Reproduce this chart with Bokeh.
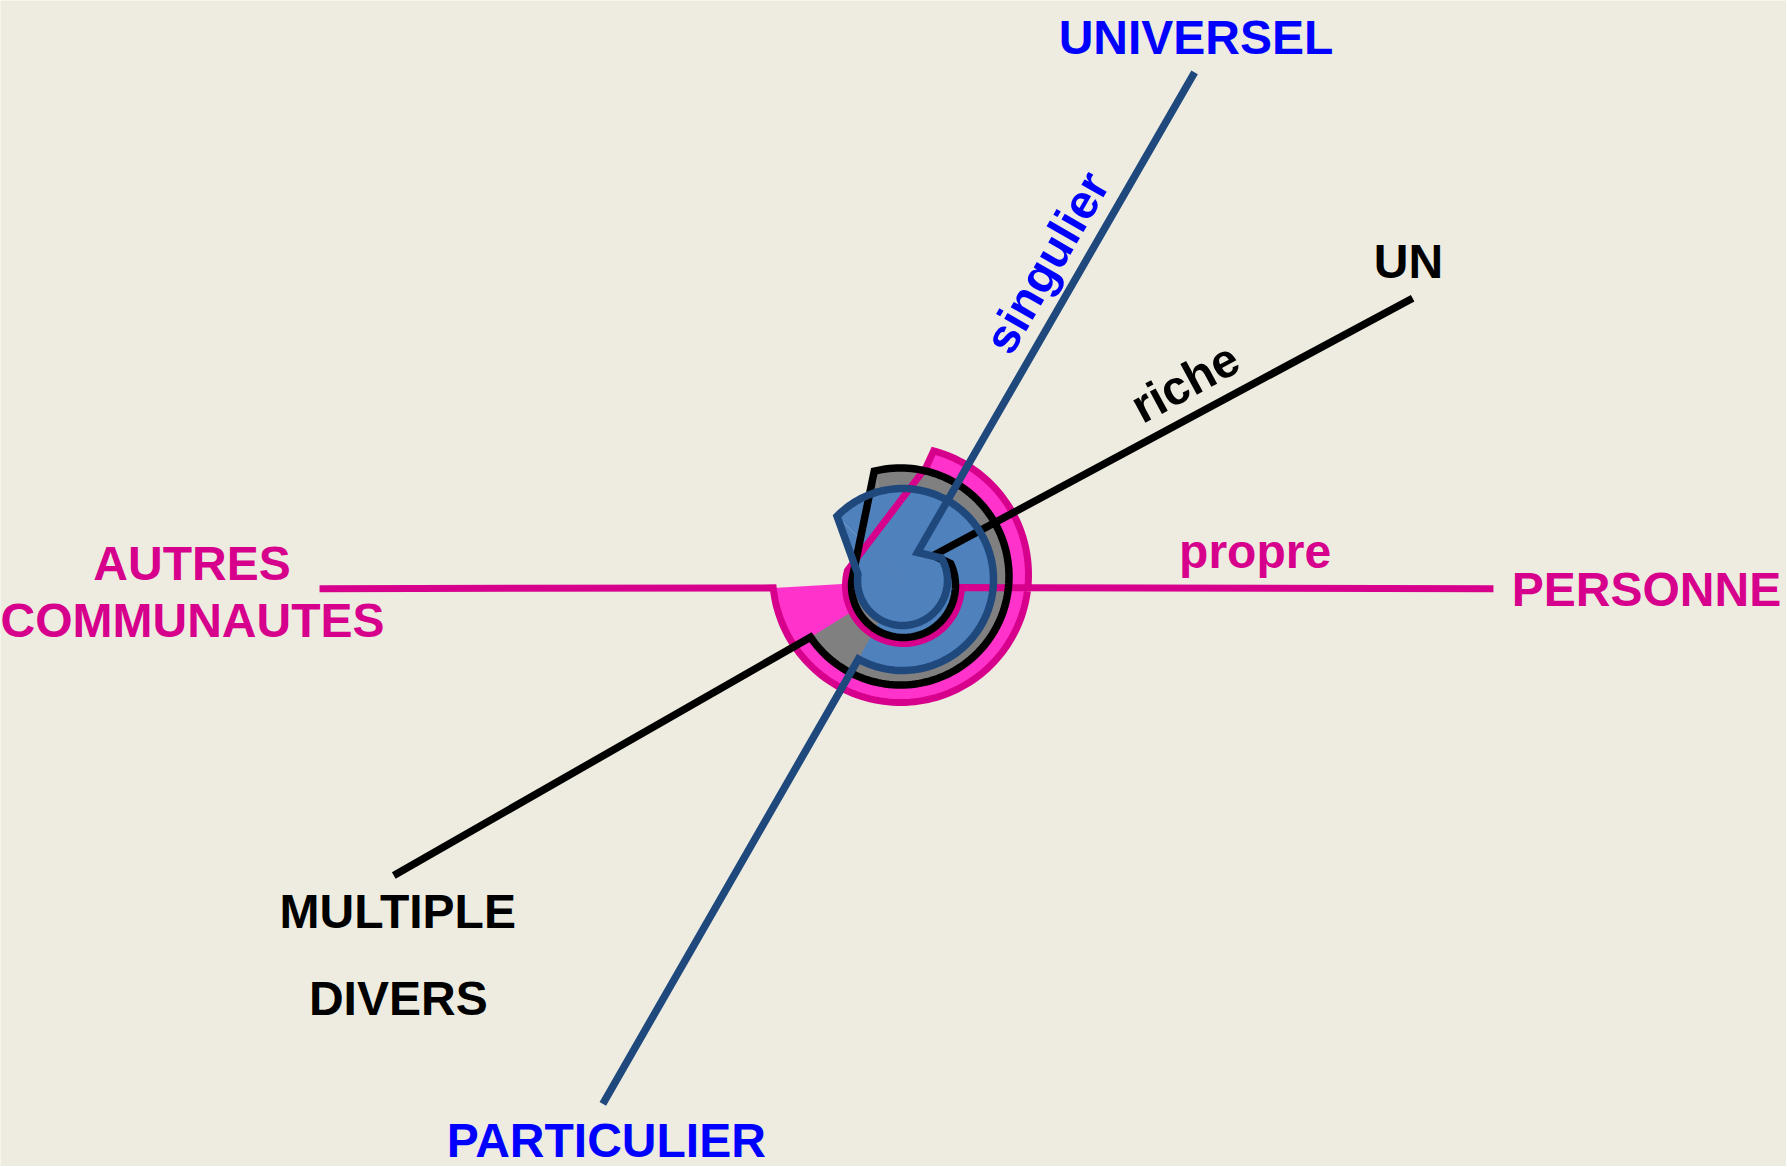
import numpy as np
from bokeh.plotting import figure
from bokeh.models import Range1d
from bokeh.core.properties import value
from bokeh.embed import file_html
from bokeh.resources import INLINE

# ---------------- data ----------------
# three axes of the diagram: pink (propre), black (riche), blue (singulier)
SERIES      = ["propre", "riche", "singulier"]
LINE_COLORS = ["#D6008C", "#000000", "#1F497D"]
FILL_COLORS = ["#FF33CC", "#808080", "#4F81BD"]

# far ends of each axis, polar from the diagram centre (radius px, degrees)
POS_END_R   = [591, 583, 586]
POS_END_DEG = [-0.8, 28.95, 60.1]
NEG_END_R   = [583, 588, 603]
NEG_END_DEG = [180.8, 210.1, 240.2]

# inner tip where the axis turns into the hook (pink has none)
TIP_R   = [None, 39.8, 31.8]
TIP_DEG = [None, 38.9, 61.8]

# inner hook: centre offset, radius, start / end angle (clockwise)
HOOK_DX    = [1, 1, 0]
HOOK_DY    = [-5, -5, 0]
HOOK_R     = [58, 52, 45]
HOOK_START = [-2, 25, 30]
HOOK_END   = [-195, -185, -188]

# knee of the chord before the outer arc (pink only)
KNEE_R   = [116.5, None, None]
KNEE_DEG = [78.1, None, None]

# outer arc: centre offset, radius, start / end angle (clockwise)
OUTER_DX    = [-2, -2, 0]
OUTER_DY    = [6, 4, 1]
OUTER_R     = [128, 108.5, 91]
OUTER_START = [75, 104, 136]
OUTER_END   = [-174, -146, -119]

# labels
LABELS       = ["UNIVERSEL", "UN", "propre", "PERSONNE", "AUTRES",
                "COMMUNAUTES", "MULTIPLE", "DIVERS", "PARTICULIER"]
LABEL_COLORS = ["#0000FF", "#000000", "#D6008C", "#D6008C", "#D6008C",
                "#D6008C", "#000000", "#000000", "#0000FF"]
ROT_LABELS       = ["singulier", "riche"]
ROT_LABEL_COLORS = ["#0000FF", "#000000"]
ROT_LABEL_DEG    = [60, 28.5]

# ---------------- layout ----------------
LINE_WIDTHS = [7, 7.5, 7.5]
LABEL_X = [293.5, 506, 352.6, 744, -710.5, -710, -504.8, -504.2, -296.2]
LABEL_Y = [543, 319, 28.6, -8.5, 17.5, -39.5, -330.6, -418.4, -559.7]
ROT_LABEL_X = [144.3, 282.5]
ROT_LABEL_Y = [318, 198]

BG = "#EEECE1"
FONT = value("Liberation Sans")


def pol(r, deg):
    t = np.deg2rad(deg)
    return r * np.cos(t), r * np.sin(t)


def arc_pts(cx, cy, r, a0, a1):
    n = max(8, int(abs(a1 - a0) / 2) + 1)
    t = np.deg2rad(np.linspace(a0, a1, n))
    return list(cx + r * np.cos(t)), list(cy + r * np.sin(t))


p = figure(width=1786, height=1166,
           x_range=Range1d(-902, 884), y_range=Range1d(-586, 580),
           output_backend="svg", toolbar_location=None,
           x_axis_type=None, y_axis_type=None,
           min_border=0, background_fill_color=BG,
           border_fill_color=BG, outline_line_color=None)
p.grid.visible = False

paths = []
fills = []
for i in range(len(SERIES)):
    hx, hy = arc_pts(HOOK_DX[i], HOOK_DY[i], HOOK_R[i], HOOK_START[i], HOOK_END[i])
    ox, oy = arc_pts(OUTER_DX[i], OUTER_DY[i], OUTER_R[i], OUTER_START[i], OUTER_END[i])
    px, py = pol(POS_END_R[i], POS_END_DEG[i])
    nx, ny = pol(NEG_END_R[i], NEG_END_DEG[i])
    tip_x, tip_y = ([], [])
    if TIP_R[i] is not None:
        tx, ty = pol(TIP_R[i], TIP_DEG[i])
        tip_x, tip_y = [tx], [ty]
    knee_x, knee_y = ([], [])
    if KNEE_R[i] is not None:
        kx, ky = pol(KNEE_R[i], KNEE_DEG[i])
        knee_x, knee_y = [kx], [ky]

    line_x = [px] + tip_x + hx + knee_x + ox + [nx]
    line_y = [py] + tip_y + hy + knee_y + oy + [ny]
    paths.append((line_x, line_y))

    # fill = sector under outer arc + the hook / chord part
    fa = ([0] + ox, [0] + oy)
    fb = ([0] + tip_x + hx + knee_x + [ox[0]], [0] + tip_y + hy + knee_y + [oy[0]])
    fills.append((fa, fb))

for i in range(len(SERIES)):
    for fx, fy in fills[i]:
        p.patch(fx, fy, fill_color=FILL_COLORS[i], line_color=None)

for i in range(len(SERIES)):
    lx, ly = paths[i]
    p.line(lx, ly, line_color=LINE_COLORS[i], line_width=LINE_WIDTHS[i],
           line_join="miter", line_cap="butt")

p.text(x=LABEL_X, y=LABEL_Y, text=LABELS, text_color=LABEL_COLORS,
       text_font=FONT, text_font_style="bold", text_font_size="48px",
       text_align="center", text_baseline="middle")
p.text(x=ROT_LABEL_X, y=ROT_LABEL_Y, text=ROT_LABELS, text_color=ROT_LABEL_COLORS,
       angle=list(np.deg2rad(ROT_LABEL_DEG)),
       text_font=FONT, text_font_style="bold", text_font_size="48px",
       text_align="center", text_baseline="middle")

open("out.html", "w").write(file_html(p, INLINE))
